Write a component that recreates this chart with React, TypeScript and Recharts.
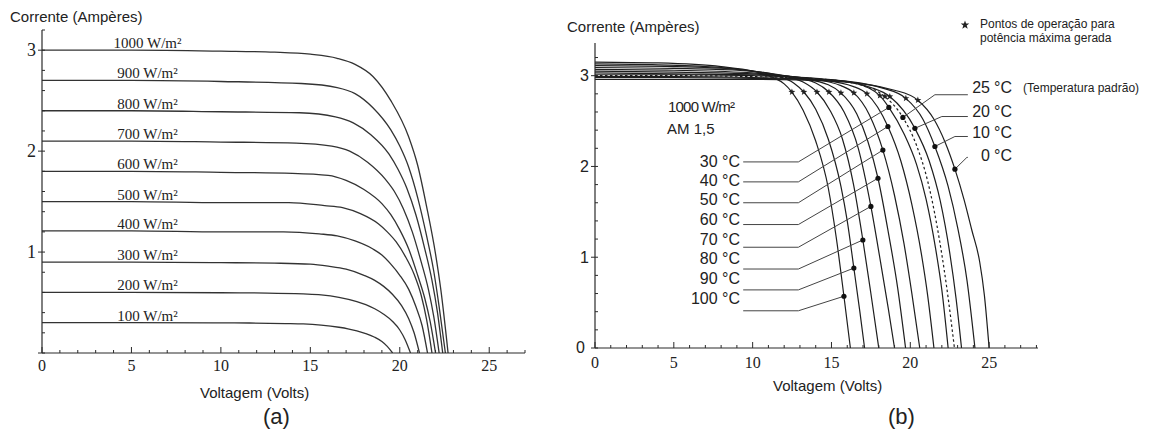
import React from "react";
import { ComposedChart, Line, Scatter, XAxis, YAxis } from "recharts";

const SANS = "'Liberation Sans', Arial, sans-serif";
const SERIF = "'Liberation Serif', 'Times New Roman', serif";
const INK = "#2a2a2a";

// ---------- (a) curvas I-V por irradiância ----------
const irradiance = [1000, 900, 800, 700, 600, 500, 400, 300, 200, 100];
const iscA = [3.0, 2.7, 2.4, 2.1, 1.8, 1.5, 1.21, 0.9, 0.6, 0.3];

const ivA1000: [number, number][] = [[0, 3.0], [5, 3.0], [10, 2.99], [13, 2.98], [15, 2.96], [16.5, 2.92], [17.5, 2.86], [18.5, 2.74], [19.5, 2.5], [20.5, 2.14], [21, 1.86], [21.5, 1.45], [22, 0.98], [22.3, 0.62], [22.7, 0]];
const ivA900: [number, number][] = [[0, 2.7], [5, 2.7], [10, 2.69], [14.5, 2.67], [16.5, 2.63], [17.5, 2.57], [18.5, 2.43], [19.5, 2.21], [20, 2.05], [20.5, 1.84], [21, 1.54], [21.5, 1.16], [21.9, 0.81], [22.2, 0.46], [22.55, 0]];
const ivA800: [number, number][] = [[0, 2.4], [5, 2.4], [10, 2.39], [14.4, 2.38], [16.4, 2.34], [17.4, 2.28], [18.4, 2.16], [19.4, 1.97], [19.9, 1.82], [20.4, 1.63], [20.9, 1.37], [21.4, 1.03], [21.8, 0.72], [22.1, 0.41], [22.4, 0]];
const ivA700: [number, number][] = [[0, 2.1], [5, 2.1], [10, 2.09], [14.2, 2.08], [16.2, 2.05], [17.2, 2.0], [18.2, 1.89], [19.2, 1.72], [19.7, 1.6], [20.2, 1.43], [20.7, 1.2], [21.2, 0.9], [21.6, 0.63], [21.9, 0.36], [22.2, 0]];
const ivA600: [number, number][] = [[0, 1.8], [5, 1.8], [10, 1.79], [14, 1.78], [16, 1.76], [17, 1.71], [18, 1.62], [19, 1.48], [19.5, 1.37], [20, 1.22], [20.5, 1.03], [21, 0.77], [21.4, 0.54], [21.7, 0.31], [22, 0]];
const ivA500: [number, number][] = [[0, 1.5], [5, 1.5], [10, 1.49], [13.8, 1.49], [15.8, 1.46], [16.8, 1.44], [17.8, 1.38], [18.8, 1.28], [19.3, 1.2], [19.8, 1.1], [20.3, 0.96], [20.8, 0.78], [21.2, 0.57], [21.5, 0.33], [21.8, 0]];
const ivA400: [number, number][] = [[0, 1.21], [5, 1.21], [10, 1.2], [13.5, 1.2], [15.5, 1.18], [16.5, 1.16], [17.5, 1.11], [18.5, 1.03], [19, 0.97], [19.5, 0.88], [20, 0.77], [20.5, 0.63], [20.9, 0.46], [21.25, 0.27], [21.55, 0]];
const ivA300: [number, number][] = [[0, 0.9], [5, 0.9], [10, 0.895], [13, 0.89], [15, 0.88], [16, 0.86], [17, 0.83], [18, 0.77], [18.6, 0.72], [19.1, 0.66], [19.6, 0.58], [20.1, 0.47], [20.5, 0.34], [20.8, 0.2], [21.1, 0]];
const ivA200: [number, number][] = [[0, 0.6], [5, 0.6], [10, 0.597], [12.6, 0.594], [14.6, 0.585], [15.6, 0.576], [16.6, 0.552], [17.6, 0.51], [18.1, 0.48], [18.6, 0.438], [19.1, 0.384], [19.6, 0.312], [20.0, 0.228], [20.3, 0.132], [20.6, 0]];
const ivA100: [number, number][] = [[0, 0.3], [5, 0.3], [10, 0.298], [11.6, 0.297], [13.6, 0.292], [14.6, 0.288], [15.6, 0.276], [16.6, 0.255], [17.1, 0.24], [17.6, 0.219], [18.1, 0.192], [18.6, 0.156], [19.0, 0.114], [19.3, 0.066], [19.6, 0]];

const curvesA = [ivA1000, ivA900, ivA800, ivA700, ivA600, ivA500, ivA400, ivA300, ivA200, ivA100];

const xTicksA = [0, 1, 2, 3, 4, 5, 6, 7, 8, 9, 10, 11, 12, 13, 14, 15, 16, 17, 18, 19, 20, 21, 22, 23, 24, 25, 26, 27];
const yTicksA = [0, 0.2, 0.4, 0.6, 0.8, 1, 1.2, 1.4, 1.6, 1.8, 2, 2.2, 2.4, 2.6, 2.8, 3, 3.2];

// ---------- (b) curvas I-V por temperatura (1000 W/m², AM 1,5) ----------
const temps = [100, 90, 80, 70, 60, 50, 40, 30, 25, 20, 10, 0];

const ivB100: [number, number][] = [[0, 3.15], [4, 3.14], [8, 3.1], [10, 3.05], [11.3, 2.98], [12, 2.91], [12.49, 2.82], [13.2, 2.62], [14, 2.28], [14.8, 1.76], [15.3, 1.22], [15.79, 0.57], [16.2, 0]];
const ivB90: [number, number][] = [[0, 3.13], [4, 3.12], [8, 3.09], [10, 3.05], [11.5, 3.0], [12.6, 2.92], [13.25, 2.82], [14, 2.63], [14.8, 2.3], [15.6, 1.78], [16.0, 1.4], [16.42, 0.88], [16.8, 0.4], [17.1, 0]];
const ivB80: [number, number][] = [[0, 3.11], [5, 3.1], [9, 3.07], [11.5, 3.01], [13.2, 2.93], [14.08, 2.82], [14.9, 2.62], [15.7, 2.3], [16.4, 1.8], [16.99, 1.19], [17.5, 0.6], [18.0, 0]];
const ivB70: [number, number][] = [[0, 3.09], [5, 3.08], [9, 3.06], [12, 3.0], [14, 2.92], [14.84, 2.82], [15.8, 2.6], [16.7, 2.2], [17.5, 1.56], [18.1, 0.96], [18.6, 0.44], [19.0, 0]];
const ivB60: [number, number][] = [[0, 3.07], [5, 3.06], [10, 3.03], [13, 2.97], [14.8, 2.9], [15.6, 2.81], [16.6, 2.58], [17.3, 2.28], [17.95, 1.87], [18.6, 1.28], [19.2, 0.66], [19.7, 0]];
const ivB50: [number, number][] = [[0, 3.05], [5, 3.04], [10, 3.02], [13.5, 2.97], [15.6, 2.89], [16.42, 2.81], [17.4, 2.57], [18.26, 2.18], [19.0, 1.68], [19.6, 1.15], [20.1, 0.6], [20.6, 0]];
const ivB40: [number, number][] = [[0, 3.03], [5, 3.02], [10, 3.01], [14, 2.96], [16.4, 2.88], [17.25, 2.8], [18.58, 2.44], [19.4, 2.06], [20.1, 1.58], [20.7, 1.04], [21.1, 0.58], [21.5, 0]];
const ivB30: [number, number][] = [[0, 3.01], [5, 3.01], [10, 3.0], [14, 2.97], [16.5, 2.92], [17.3, 2.87], [18.07, 2.78], [18.64, 2.65], [19.6, 2.36], [20.4, 2.02], [21.0, 1.64], [21.6, 1.1], [22.0, 0.64], [22.4, 0]];
const ivB25: [number, number][] = [[0, 3.0], [5, 3.0], [10, 2.99], [14.5, 2.96], [17, 2.89], [18.39, 2.77], [19.53, 2.54], [20.4, 2.23], [21.1, 1.84], [21.7, 1.34], [22.3, 0.68], [22.8, 0]];
const ivB20: [number, number][] = [[0, 2.99], [5, 2.99], [10, 2.98], [15, 2.95], [17.5, 2.87], [18.7, 2.77], [20.29, 2.42], [21.2, 2.06], [21.9, 1.62], [22.5, 1.05], [22.9, 0.55], [23.25, 0]];
const ivB10: [number, number][] = [[0, 2.98], [5, 2.98], [10, 2.97], [15, 2.95], [18.3, 2.86], [19.72, 2.75], [20.8, 2.52], [21.56, 2.22], [22.4, 1.78], [23.0, 1.33], [23.6, 0.74], [24.1, 0]];
const ivB0: [number, number][] = [[0, 2.96], [5, 2.96], [10, 2.96], [15, 2.94], [19, 2.84], [20.48, 2.73], [21.5, 2.52], [22.2, 2.27], [22.83, 1.97], [23.4, 1.64], [23.9, 1.3], [24.4, 0.95], [24.7, 0.58], [25.0, 0]];

const curvesB = [ivB100, ivB90, ivB80, ivB70, ivB60, ivB50, ivB40, ivB30, ivB25, ivB20, ivB10, ivB0];

// pontos de potência máxima (mesma ordem de temps)
const mppV = [12.49, 13.25, 14.08, 14.84, 15.6, 16.42, 17.25, 18.07, 18.39, 18.7, 19.72, 20.48];
const mppI = [2.82, 2.82, 2.82, 2.82, 2.81, 2.81, 2.8, 2.78, 2.77, 2.77, 2.75, 2.73];

// pontos marcados pelas linhas de chamada
const leftTemps = [30, 40, 50, 60, 70, 80, 90, 100];
const leftDotV = [18.64, 18.58, 18.26, 17.95, 17.5, 16.99, 16.42, 15.79];
const leftDotI = [2.65, 2.44, 2.18, 1.87, 1.56, 1.19, 0.88, 0.57];
const rightTemps = [25, 20, 10, 0];
const rightDotV = [19.53, 20.29, 21.56, 22.83];
const rightDotI = [2.54, 2.42, 2.22, 1.97];

const xTicksB = [0, 1, 2, 3, 4, 5, 6, 7, 8, 9, 10, 11, 12, 13, 14, 15, 16, 17, 18, 19, 20, 21, 22, 23, 24, 25, 26, 27, 28];
const yTicksB = [0, 0.2, 0.4, 0.6, 0.8, 1, 1.2, 1.4, 1.6, 1.8, 2, 2.2, 2.4, 2.6, 2.8, 3, 3.2];

// geometria das linhas de chamada (anotação)
const leftLeaderY = [2.05, 1.83, 1.6, 1.36, 1.11, 0.87, 0.64, 0.41];
const rightLeaderY = [2.79, 2.55, 2.33, 2.1];
const rightLeaderKnee = [21.56, 22.0, 22.83, 23.59];

const toPts = (pts: [number, number][]) => pts.map(([v, i]) => ({ v, i }));

function XTick({ x, y, payload, labelDy, fontSize }: any) {
  const v = payload.value;
  const major = v % 5 === 0;
  return (
    <g>
      <line x1={x} x2={x} y1={y} y2={y - (major ? 6 : 3)} stroke={INK} strokeWidth={1} />
      {major && (
        <text x={x} y={y + labelDy} textAnchor="middle" fontSize={fontSize} fontFamily={SERIF} fill="#222">
          {v}
        </text>
      )}
    </g>
  );
}

function YTick({ x, y, payload, fontSize, family, skipZero, dxZero = 0 }: any) {
  const v = payload.value;
  const major = Math.abs(v - Math.round(v)) < 1e-6;
  const showLabel = major && !(skipZero && v === 0);
  return (
    <g>
      <line x1={major ? x - 4 : x} x2={x + 3} y1={y} y2={y} stroke={INK} strokeWidth={1} />
      {showLabel && (
        <text
          x={x - 6 - (v === 0 ? dxZero : 0)}
          y={y + fontSize * 0.34}
          textAnchor="end"
          fontSize={fontSize}
          fontFamily={family}
          fill="#222"
        >
          {Math.round(v)}
        </text>
      )}
    </g>
  );
}

const StarShape = (p: any) => {
  const { cx, cy } = p;
  const pts: string[] = [];
  for (let k = 0; k < 10; k++) {
    const r = k % 2 === 0 ? 3.6 : 1.5;
    const a = -Math.PI / 2 + (k * Math.PI) / 5;
    pts.push(`${cx + r * Math.cos(a)},${cy + r * Math.sin(a)}`);
  }
  return <polygon points={pts.join(" ")} fill="#222" />;
};

const DotShape = (p: any) => <circle cx={p.cx} cy={p.cy} r={2.6} fill="#111" />;

const IrrLabel = (p: any) => (
  <text x={p.cx} y={p.cy - 2} textAnchor="middle" fontSize={15} fontFamily={SERIF} fill="#222">
    {p.payload.label}
  </text>
);

function Txt({ x, y, size, family = SANS, align = "left", children, style }: any) {
  const tx = align === "left" ? "0" : align === "right" ? "-100%" : "-50%";
  return (
    <div
      style={{
        position: "absolute",
        left: x,
        top: y,
        transform: `translate(${tx}, -50%)`,
        fontSize: size,
        fontFamily: family,
        lineHeight: 1,
        whiteSpace: "nowrap",
        color: "#222",
        ...style,
      }}
    >
      {children}
    </div>
  );
}

const LABEL_V = 5.9;
const LEFT_START = 9.4;
const LEFT_KNEE = 12.9;
const RIGHT_START = 23.65;
const leftLabelY = [162, 181, 200, 220, 240, 259, 279, 299];
const rightLabelY = [88, 112, 133, 156];

export default function App() {
  const irrLabels = irradiance.map((g, k) => ({ v: LABEL_V, i: iscA[k], label: `${g} W/m²` }));
  const stars = temps.map((_, k) => ({ v: mppV[k], i: mppI[k] }));
  const dots = [
    ...leftTemps.map((_, k) => ({ v: leftDotV[k], i: leftDotI[k] })),
    ...rightTemps.map((_, k) => ({ v: rightDotV[k], i: rightDotI[k] })),
  ];

  return (
    <div style={{ position: "absolute", left: 0, top: 0, width: 1157, height: 432, background: "#fff", overflow: "hidden" }}>
      {/* (a) */}
      <div style={{ position: "absolute", left: 0, top: 0 }}>
        <ComposedChart width={560} height={432} margin={{ top: 30, right: 35, bottom: 49, left: 0 }}>
          <XAxis
            dataKey="v"
            type="number"
            domain={[0, 27]}
            ticks={xTicksA}
            interval={0}
            allowDataOverflow
            height={30}
            tickSize={0}
            tickMargin={0}
            tickLine={false}
            axisLine={{ stroke: INK, strokeWidth: 1.2 }}
            tick={(p: any) => <XTick {...p} labelDy={18} fontSize={16} />}
          />
          <YAxis
            type="number"
            domain={[0, 3.2]}
            ticks={yTicksA}
            interval={0}
            allowDataOverflow
            width={42}
            tickSize={0}
            tickMargin={0}
            tickLine={false}
            axisLine={{ stroke: INK, strokeWidth: 1.2 }}
            tick={(p: any) => <YTick {...p} fontSize={18} family={SERIF} skipZero />}
          />
          {curvesA.map((c, k) => (
            <Line
              key={`a-${irradiance[k]}`}
              data={toPts(c)}
              dataKey="i"
              type="monotone"
              stroke="#333"
              strokeWidth={1.3}
              dot={false}
              activeDot={false}
              isAnimationActive={false}
            />
          ))}
          <Scatter data={irrLabels} dataKey="i" shape={IrrLabel} isAnimationActive={false} />
        </ComposedChart>
      </div>

      {/* (b) */}
      <div style={{ position: "absolute", left: 560, top: 0 }}>
        <ComposedChart width={597} height={432} margin={{ top: 43, right: 119, bottom: 54, left: 0 }}>
          <XAxis
            dataKey="v"
            type="number"
            domain={[0, 28.1]}
            ticks={xTicksB}
            interval={0}
            allowDataOverflow
            height={30}
            tickSize={0}
            tickMargin={0}
            tickLine={false}
            axisLine={{ stroke: INK, strokeWidth: 1.2 }}
            tick={(p: any) => <XTick {...p} labelDy={20} fontSize={16} />}
          />
          <YAxis
            type="number"
            domain={[0, 3.36]}
            ticks={yTicksB}
            interval={0}
            allowDataOverflow
            width={35}
            tickSize={0}
            tickMargin={0}
            tickLine={false}
            axisLine={{ stroke: INK, strokeWidth: 1.2 }}
            tick={(p: any) => <YTick {...p} fontSize={16} family={SANS} dxZero={4} />}
          />
          {curvesB.map((c, k) => (
            <Line
              key={`b-${temps[k]}`}
              data={toPts(c)}
              dataKey="i"
              type="monotone"
              stroke="#1e1e1e"
              strokeWidth={1.2}
              strokeDasharray={temps[k] === 25 ? "2.5 2.5" : undefined}
              dot={false}
              activeDot={false}
              isAnimationActive={false}
            />
          ))}
          {leftTemps.map((t, k) => (
            <Line
              key={`ll-${t}`}
              data={[
                { v: LEFT_START, i: leftLeaderY[k] },
                { v: LEFT_KNEE, i: leftLeaderY[k] },
                { v: leftDotV[k], i: leftDotI[k] },
              ]}
              dataKey="i"
              type="linear"
              stroke="#444"
              strokeWidth={1}
              dot={false}
              activeDot={false}
              isAnimationActive={false}
            />
          ))}
          {rightTemps.map((t, k) => (
            <Line
              key={`rl-${t}`}
              data={[
                { v: RIGHT_START, i: rightLeaderY[k] },
                { v: rightLeaderKnee[k], i: rightLeaderY[k] },
                { v: rightDotV[k], i: rightDotI[k] },
              ]}
              dataKey="i"
              type="linear"
              stroke="#444"
              strokeWidth={1}
              dot={false}
              activeDot={false}
              isAnimationActive={false}
            />
          ))}
          <Scatter data={stars} dataKey="i" shape={StarShape} isAnimationActive={false} />
          <Scatter data={dots} dataKey="i" shape={DotShape} isAnimationActive={false} />
        </ComposedChart>
      </div>

      {/* textos (a) */}
      <Txt x={10} y={16} size={15}>Corrente (Ampères)</Txt>
      <Txt x={200} y={392} size={15}>Voltagem (Volts)</Txt>
      <Txt x={263} y={417} size={22}>(a)</Txt>

      {/* textos (b) */}
      <Txt x={567} y={26} size={15}>Corrente (Ampères)</Txt>
      <Txt x={773} y={385} size={15}>Voltagem (Volts)</Txt>
      <Txt x={888} y={417} size={22}>(b)</Txt>
      <Txt x={668} y={106} size={15} style={{ letterSpacing: "-0.8px" }}>1000 W/m²</Txt>
      <Txt x={667} y={128} size={15}>AM 1,5</Txt>

      <svg style={{ position: "absolute", left: 960, top: 20 }} width={10} height={10}>
        <polygon points="5,0.5 6.1,3.6 9.3,3.6 6.7,5.6 7.7,8.8 5,6.9 2.3,8.8 3.3,5.6 0.7,3.6 3.9,3.6" fill="#222" />
      </svg>
      <Txt x={980} y={24} size={12}>Pontos de operação para</Txt>
      <Txt x={980} y={38} size={12}>potência máxima gerada</Txt>

      {leftTemps.map((t, k) => (
        <Txt key={`lt-${t}`} x={740} y={leftLabelY[k]} size={16} align="right">
          {t} °C
        </Txt>
      ))}
      {rightTemps.map((t, k) => (
        <React.Fragment key={`rt-${t}`}>
          <Txt x={990} y={rightLabelY[k]} size={16} align="right">{t}</Txt>
          <Txt x={994} y={rightLabelY[k]} size={16}>°C</Txt>
        </React.Fragment>
      ))}
      <Txt x={1023} y={88} size={12}>(Temperatura padrão)</Txt>
    </div>
  );
}
